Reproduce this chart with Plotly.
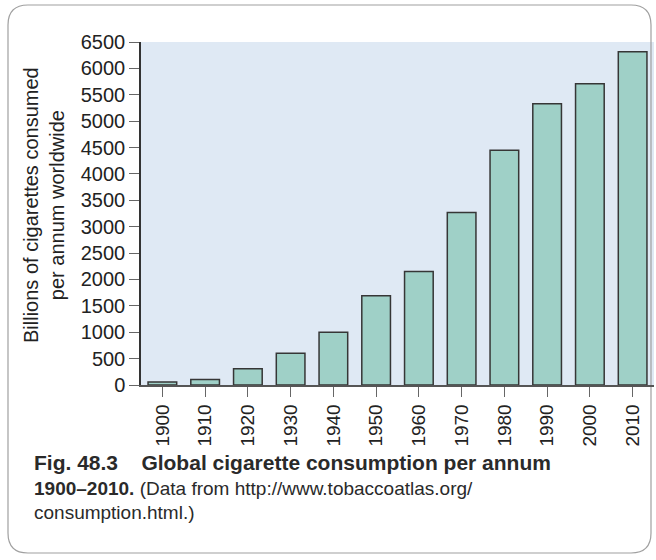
import plotly.graph_objects as go

years = ["1900", "1910", "1920", "1930", "1940", "1950", "1960",
         "1970", "1980", "1990", "2000", "2010"]
consumption = [55, 105, 310, 600, 1000, 1690, 2150, 3270, 4450, 5330, 5710, 6315]
y_ticks = list(range(0, 6501, 500))

W, H = 656, 560
L, R, T, B = 141, 2, 42, 175
FONT = "Liberation Sans, Arial, sans-serif"


def px_x(p):
    # pixel -> paper x
    return (p - L) / (W - L - R)


def px_y(p):
    # pixel -> paper y
    return (H - B - p) / (H - T - B)


fig = go.Figure()
fig.add_trace(go.Bar(
    x=years, y=consumption, width=0.67,
    marker=dict(color="#9fd0c7", line=dict(color="#363636", width=1.5)),
))

# rounded frame around the whole figure
x0, x1, y0, y1, r = 8, 651, 5, 553, 20
path = (f"M {px_x(x0 + r)} {px_y(y0)} L {px_x(x1 - r)} {px_y(y0)} "
        f"Q {px_x(x1)} {px_y(y0)} {px_x(x1)} {px_y(y0 + r)} "
        f"L {px_x(x1)} {px_y(y1 - r)} Q {px_x(x1)} {px_y(y1)} {px_x(x1 - r)} {px_y(y1)} "
        f"L {px_x(x0 + r)} {px_y(y1)} Q {px_x(x0)} {px_y(y1)} {px_x(x0)} {px_y(y1 - r)} "
        f"L {px_x(x0)} {px_y(y0 + r)} Q {px_x(x0)} {px_y(y0)} {px_x(x0 + r)} {px_y(y0)} Z")
fig.add_shape(type="path", path=path, xref="paper", yref="paper",
              line=dict(color="#a0a0a0", width=1.2), layer="below")

fig.add_annotation(
    text="Billions of cigarettes consumed<br>per annum worldwide",
    xref="paper", yref="paper", x=px_x(44), y=px_y(205), textangle=-90,
    showarrow=False, font=dict(family=FONT, size=20, color="#222"),
    xanchor="center", yanchor="middle")

sp = "&nbsp;" * 4
fig.add_annotation(
    text=f"<span style='font-size:21px'><b>Fig. 48.3</b>{sp}"
         "<b>Global cigarette consumption per annum</b></span><br>"
         "<b>1900–2010.</b> (Data from http://www.tobaccoatlas.org/<br>"
         "consumption.html.)",
    xref="paper", yref="paper", x=px_x(32), y=px_y(449), align="left",
    showarrow=False, font=dict(family=FONT, size=19, color="#2a2a2a"),
    xanchor="left", yanchor="top")

fig.update_layout(
    width=W, height=H,
    margin=dict(l=L, r=R, t=T, b=B),
    paper_bgcolor="white", plot_bgcolor="#dfe9f4",
    showlegend=False,
    font=dict(family=FONT, size=19, color="#222"),
    xaxis=dict(type="category", range=[-0.5, 11.5], tickangle=-90,
               showline=True, linecolor="#555", linewidth=1.5,
               ticks="outside", ticklen=10, tickcolor="#666", tickwidth=1.2,
               showgrid=False, tickfont=dict(size=19)),
    yaxis=dict(range=[0, 6500], tickvals=y_ticks, showline=True,
               linecolor="#333", linewidth=1.5, ticks="outside", ticklen=10,
               tickcolor="#666", tickwidth=1.2, showgrid=False, zeroline=False,
               tickfont=dict(size=20)),
)

# drop the browser's default body margin so the figure sits at the page origin
fig.write_html("out.html", config={"displayModeBar": False},
               post_script="document.body.style.margin='0';")
